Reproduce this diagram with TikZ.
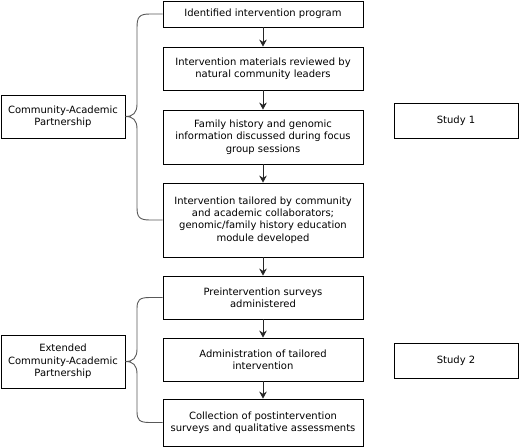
\documentclass[tikz,border=0pt]{standalone}
\usepackage{fontspec}
\setmainfont{DejaVu Sans}
\usetikzlibrary{arrows.meta,calc}
\begin{document}
\begin{tikzpicture}[x=1pt,y=-1pt,
  box/.style={draw=black,line width=0.8pt,minimum width=200pt,align=center,inner sep=0pt,
    font=\fontsize{10}{12.3}\selectfont},
  sidebox/.style={box,minimum width=124pt},
  flow/.style={draw=black!85,line width=0.8pt,-{Stealth[length=7pt,width=7.5pt]}},
  brace/.style={draw=black!65,line width=0.9pt}]
\useasboundingbox (0,0) rectangle (519,447);
\node[box,minimum height=26pt] (b1) at (263,14) {Identified intervention program};
\node[box,minimum height=43pt] (b2) at (263,68.5) {Intervention materials reviewed by\\natural community leaders};
\node[box,minimum height=54pt] (b3) at (263,137) {Family history and genomic\\information discussed during focus\\group sessions};
\node[box,minimum height=74pt] (b4) at (263,220) {Intervention tailored by community\\and academic collaborators;\\genomic/family history education\\module developed};
\node[box,minimum height=43pt] (b5) at (263,297.5) {Preintervention surveys\\administered};
\node[box,minimum height=43pt] (b6) at (263,359.5) {Administration of tailored\\intervention};
\node[box,minimum height=47pt] (b7) at (263,422.5) {Collection of postintervention\\surveys and qualitative assessments};
\node[sidebox,minimum height=43pt] (c1) at (63,116.5) {Community-Academic\\Partnership};
\node[sidebox,minimum height=53pt] (c2) at (63,361.5) {Extended\\Community-Academic\\Partnership};
\node[sidebox,minimum height=35pt] (s1) at (456,120.5) {Study 1};
\node[sidebox,minimum height=35pt] (s2) at (456,360.5) {Study 2};
\foreach \a/\b in {b1/b2,b2/b3,b3/b4,b4/b5,b5/b6,b6/b7}
  \draw[flow] (\a) -- (\b);
% braces
\draw[brace] (b1.west) -- (150,14) .. controls (139,14) and (137,17) .. (137,28)
  -- (137,104) .. controls (137,113) and (133,116.5) .. (c1.east)
  .. controls (133,116.5) and (137,120) .. (137,129)
  -- (137,207) .. controls (137,217) and (139,220) .. (150,220) -- (b4.west);
\draw[brace] (b5.west) -- (150,297.5) .. controls (139,297.5) and (137,300) .. (137,309)
  -- (137,349) .. controls (137,358) and (133,361.5) .. (c2.east)
  .. controls (133,361.5) and (137,365) .. (137,374)
  -- (137,411) .. controls (137,420) and (139,422.5) .. (150,422.5) -- (b7.west);
\end{tikzpicture}
\end{document}
